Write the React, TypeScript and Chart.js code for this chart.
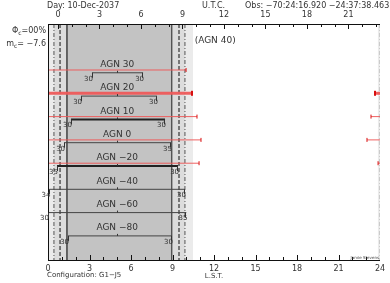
import React, { useEffect, useRef } from "react";
import { Chart, registerables } from "chart.js";
Chart.register(...registerables);

const W = 390;
const H = 283;

// axes
const lstTicks = [0, 3, 6, 9, 12, 15, 18, 21, 24];
const utcTicks = [0, 3, 6, 9, 12, 15, 18, 21];
const utcAtLst0 = -0.72;

// declination rows (rise / set in LST hours)
const rowNames = ["AGN 30", "AGN 20", "AGN 10", "AGN 0", "AGN −20", "AGN −40", "AGN −60", "AGN −80"];
const rowPos = [2, 3, 4, 5, 6, 7, 8, 9];
const riseLST = [3.18, 2.39, 1.66, 1.16, 0.65, 0.1, 0.0, 1.45];
const setLST = [6.87, 7.88, 8.46, 8.89, 9.4, 9.9, 10.0, 8.96];
const transitLST = [5.0, 5.0, 5.0, 5.0, 5.0, 5.0, 5.0, 5.0];
const riseLimit = ["30", "30", "30", "30", "35", "34", "30", "30"];
const setLimit = ["30", "30", "30", "35", "30", "30", "35", "30"];
const rowBold = [false, false, true, false, true, false, false, false];
const neverRowName = "(AGN 40)";
const neverRowPos = 1;
const neverRowLST = 10.6;

// source visibility (red)
const visRow = [1.88, 2.88, 3.88, 4.88, 5.88];
const visEnd = [9.98, 10.41, 10.77, 11.06, 10.92];
const visWrapStart: (number | null)[] = [null, 23.64, 23.35, 23.06, 23.86];
const visThick = [false, true, false, false, false];

// sun / twilight (LST)
const sunUp = [1.37, 8.94];
const civil = [0.87, 9.47];
const nautical = [0.43, 9.9];
const astro = [-0.15, 10.48];

const Y_MIN = -0.094;
const Y_MAX = 10.034;
const FONT = "'DejaVu Sans', sans-serif";
const TEXT = "#333";

export default function App() {
  const ref = useRef<HTMLCanvasElement | null>(null);

  useEffect(() => {
    const canvas = ref.current;
    if (!canvas) return;

    const datasets: any[] = [];

    // red visibility segments (on top)
    visRow.forEach((y, i) => {
      const w = visThick[i] ? 3 : 1;
      datasets.push({
        data: [{ x: 0, y }, { x: visEnd[i], y }],
        borderColor: "rgba(238,90,90,0.95)",
        borderWidth: w,
        pointRadius: [0, visThick[i] ? 2.5 : 2],
        pointStyle: "line",
        rotation: 90,
        pointBorderColor: "#d81010",
        pointBorderWidth: w === 3 ? 2 : 1,
        order: 0,
      });
      const ws = visWrapStart[i];
      if (ws !== null) {
        datasets.push({
          data: [{ x: ws, y }, { x: 24, y }],
          borderColor: "rgba(238,90,90,0.95)",
          borderWidth: w,
          pointRadius: [visThick[i] ? 2.5 : 2, 0],
          pointStyle: "line",
          rotation: 90,
          pointBorderColor: "#d81010",
          pointBorderWidth: w === 3 ? 2 : 1,
          order: 0,
        });
      }
    });

    // declination rise-set lines
    rowPos.forEach((y, i) => {
      datasets.push({
        data: [{ x: riseLST[i], y }, { x: setLST[i], y }],
        borderColor: rowBold[i] ? "#222" : "#444",
        borderWidth: rowBold[i] ? 2 : 1,
        pointRadius: 0,
        order: 1,
      });
    });

    // vertical sun lines
    const vline = (x: number, color: string, dash: number[], width = 1) => ({
      data: [{ x, y: Y_MIN }, { x, y: Y_MAX }],
      borderColor: color,
      borderWidth: width,
      borderDash: dash,
      pointRadius: 0,
      order: 2,
    });
    sunUp.forEach((x) => datasets.push(vline(x, "#555", [])));
    civil.forEach((x) => datasets.push(vline(x, "#111", [4, 2])));
    nautical.forEach((x) => datasets.push(vline(x, "#555", [4, 2, 1, 2])));
    datasets.push(vline(24, "#aaa", [4, 2, 1, 2]));

    const bands: [number, number, string][] = [
      [0, nautical[0], "#ebebeb"],
      [nautical[0], sunUp[0], "#dcdcdc"],
      [sunUp[0], sunUp[1], "#c3c3c3"],
      [sunUp[1], nautical[1], "#dcdcdc"],
      [nautical[1], astro[1], "#ebebeb"],
      [24 + astro[0], 24, "#ebebeb"],
    ];

    const decor = {
      id: "decor",
      beforeDatasetsDraw(chart: any) {
        const { ctx, chartArea } = chart;
        const x = chart.scales.x;
        ctx.save();
        bands.forEach(([a, b, c]) => {
          const xa = x.getPixelForValue(a);
          const xb = x.getPixelForValue(b);
          ctx.fillStyle = c;
          ctx.fillRect(xa, chartArea.top, xb - xa, chartArea.bottom - chartArea.top);
        });
        ctx.restore();
      },
      afterDatasetsDraw(chart: any) {
        const { ctx, chartArea } = chart;
        const x = chart.scales.x;
        const x2 = chart.scales.x2;
        const y = chart.scales.y;
        const { left, right, top, bottom } = chartArea;
        ctx.save();
        const text = (s: string, px: number, py: number, align: CanvasTextAlign, size: number, color = TEXT) => {
          ctx.font = `${size}px ${FONT}`;
          ctx.fillStyle = color;
          ctx.textAlign = align;
          ctx.textBaseline = "middle";
          ctx.fillText(s, px, py);
        };
        // frame
        ctx.strokeStyle = "#111";
        ctx.lineWidth = 1;
        ctx.beginPath();
        ctx.moveTo(left + 0.5, top);
        ctx.lineTo(left + 0.5, bottom);
        ctx.moveTo(left, bottom + 0.5);
        ctx.lineTo(right, bottom + 0.5);
        ctx.moveTo(left, top + 0.5);
        ctx.lineTo(right, top + 0.5);
        ctx.stroke();
        // bottom ticks (LST, every hour, inward)
        ctx.beginPath();
        for (let h = 1; h < 24; h++) {
          const px = Math.round(x.getPixelForValue(h)) + 0.5;
          const len = h % 3 === 0 ? 5 : 3;
          ctx.moveTo(px, bottom);
          ctx.lineTo(px, bottom - len);
        }
        // top ticks (UTC)
        for (let u = 0; u < 24; u++) {
          const px = Math.round(x2.getPixelForValue(u)) + 0.5;
          if (px <= left + 1 || px >= right - 1) continue;
          const len = u % 3 === 0 ? 5 : 3;
          ctx.moveTo(px, top);
          ctx.lineTo(px, top + len);
        }
        ctx.stroke();

        // row end ticks and labels
        rowPos.forEach((rv, i) => {
          const py = y.getPixelForValue(rv);
          const xr = x.getPixelForValue(riseLST[i]);
          const xs = x.getPixelForValue(setLST[i]);
          const xt = x.getPixelForValue(transitLST[i]);
          ctx.strokeStyle = "#333";
          ctx.lineWidth = 1;
          ctx.beginPath();
          ctx.moveTo(Math.round(xr) + 0.5, py);
          ctx.lineTo(Math.round(xr) + 0.5, py + 5);
          ctx.moveTo(Math.round(xs) - 0.5, py);
          ctx.lineTo(Math.round(xs) - 0.5, py + 5);
          ctx.moveTo(Math.round(xt) + 0.5, py);
          ctx.lineTo(Math.round(xt) + 0.5, py - 2);
          ctx.stroke();
          text(riseLimit[i], xr + 1, py + 6, "right", 7);
          text(setLimit[i], xs + 1, py + 6, "right", 7);
          text(rowNames[i], xt, py - 8, "center", 9);
        });
        text(neverRowName, x.getPixelForValue(neverRowLST), y.getPixelForValue(neverRowPos) - 8.5, "left", 9);

        // bottom labels
        lstTicks.forEach((t) => text(String(t), x.getPixelForValue(t), bottom + 9, "center", 8));
        text("L.S.T.", x.getPixelForValue(12), bottom + 16.5, "center", 7);
        text("Configuration: G1−J5", left - 1, bottom + 15.5, "left", 7);
        // top labels
        utcTicks.forEach((t) => text(String(t), x2.getPixelForValue(t), 15, "center", 8));
        text("Day: 10-Dec-2037", 47, 5.5, "left", 8);
        text("U.T.C.", 202, 5.5, "left", 8);
        text("Obs: −70:24:16.920 −24:37:38.463", 245, 5.5, "left", 8);
        text("Jamie Stevens", right - 1, bottom - 2, "right", 4, "#444");

        // left info
        ctx.font = `8px ${FONT}`;
        const wa = ctx.measureText("Φ").width;
        ctx.font = `6px ${FONT}`;
        const wc = ctx.measureText("c").width;
        ctx.font = `8px ${FONT}`;
        const wr = ctx.measureText("=00%").width;
        let sx = 46 - (wa + wc + wr);
        text("Φ", sx, 31, "left", 8);
        text("c", sx + wa, 33, "left", 6);
        text("=00%", sx + wa + wc, 31, "left", 8);
        ctx.font = `8px ${FONT}`;
        const wm = ctx.measureText("m").width;
        const wv = ctx.measureText("= −7.6").width;
        sx = 46 - (wm + wc + wv);
        text("m", sx, 44, "left", 8);
        text("c", sx + wm, 46, "left", 6);
        text("= −7.6", sx + wm + wc, 44, "left", 8);
        ctx.restore();
      },
    };

    const chart = new Chart(canvas, {
      type: "line",
      data: { datasets },
      options: {
        animation: false,
        responsive: false,
        devicePixelRatio: 1,
        parsing: true,
        layout: { padding: { left: 48, right: W - 380, top: 24, bottom: H - 260 } },
        plugins: { legend: { display: false }, tooltip: { enabled: false } },
        elements: { line: { tension: 0 } },
        scales: {
          x: { type: "linear", min: 0, max: 24, display: false },
          x2: { type: "linear", min: utcAtLst0, max: 24 + utcAtLst0, display: false },
          y: { type: "linear", min: Y_MIN, max: Y_MAX, reverse: true, display: false },
        },
      },
      plugins: [decor],
    } as any);
    return () => chart.destroy();
  }, []);

  return (
    <div style={{ position: "fixed", left: 0, top: 0, width: W, height: H, background: "#fff" }}>
      <canvas ref={ref} width={W} height={H} style={{ width: W, height: H, display: "block" }} />
    </div>
  );
}
